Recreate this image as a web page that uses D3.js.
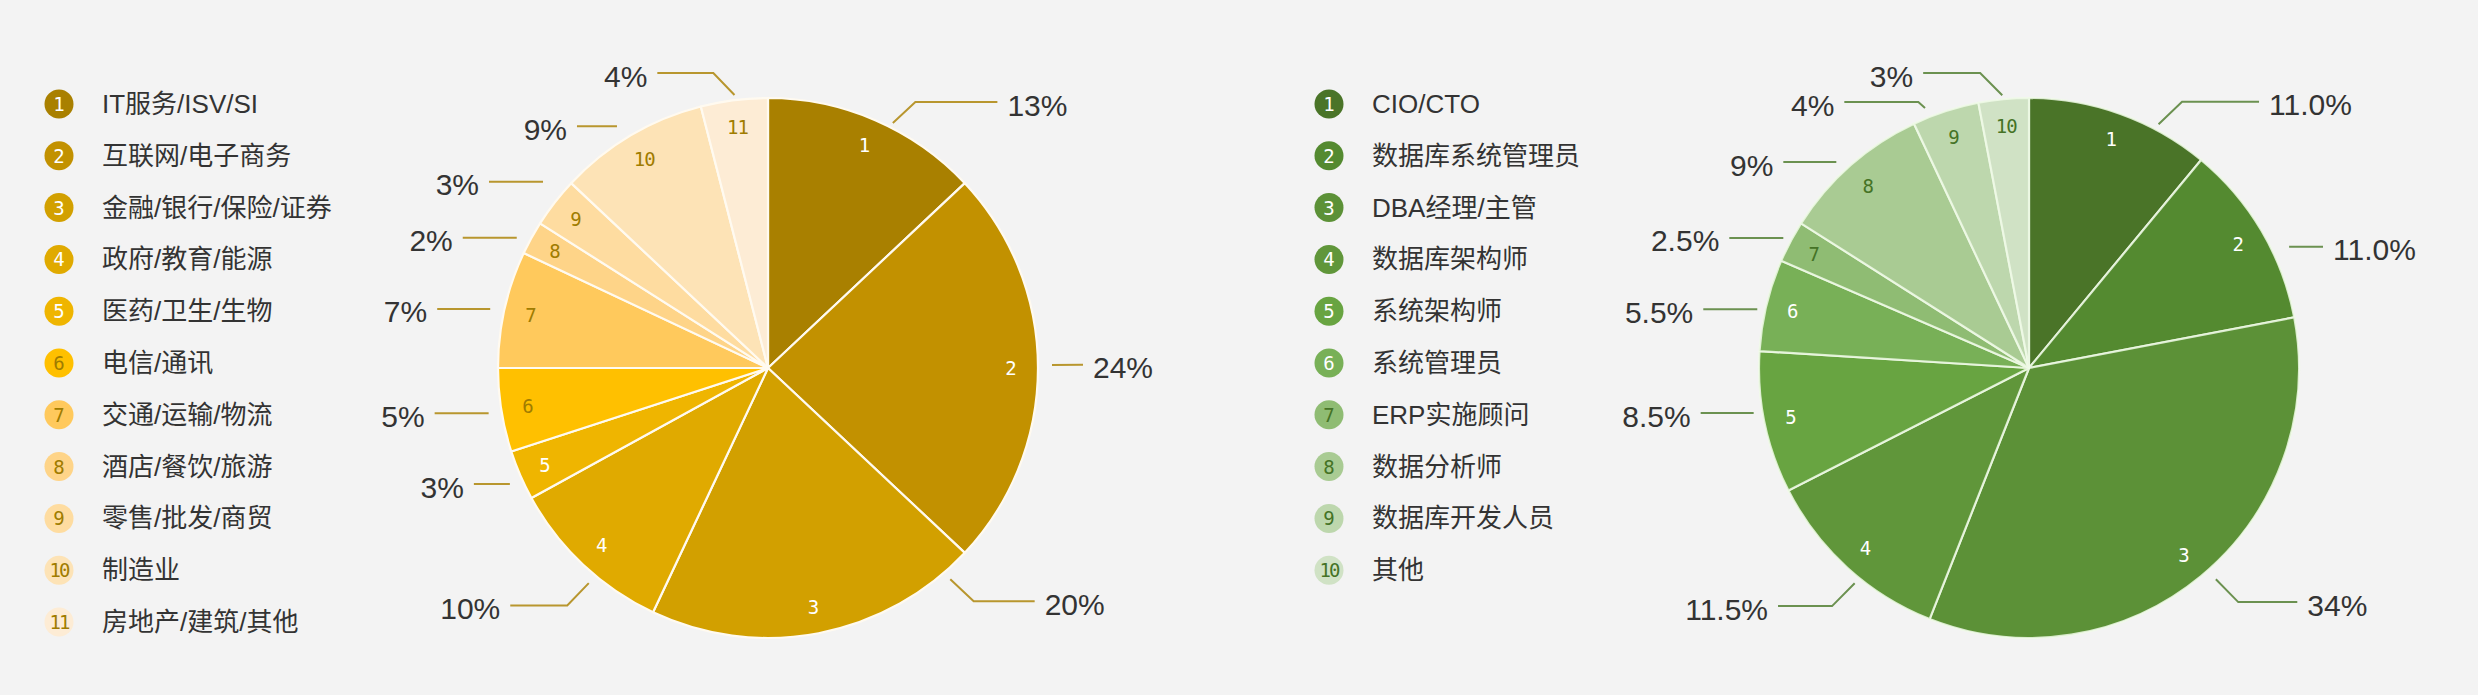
<!DOCTYPE html>
<html>
<head>
<meta charset="utf-8">
<script src="https://cdn.jsdelivr.net/npm/d3@7"></script>
<style>
  body { margin: 0; background: #f3f3f3; }
  svg { display: block; }
  text { font-family: 'Liberation Sans', Arial, 'Noto Sans CJK SC', sans-serif; }
  .num { font-family: 'DejaVu Sans Mono', 'Liberation Mono', monospace; }
</style>
</head>
<body>
<svg id="chart" width="2478" height="695"></svg>
<script>
// left chart: industries
const industryNames = ['IT服务/ISV/SI', '互联网/电子商务', '金融/银行/保险/证券', '政府/教育/能源', '医药/卫生/生物',
  '电信/通讯', '交通/运输/物流', '酒店/餐饮/旅游', '零售/批发/商贸', '制造业', '房地产/建筑/其他'];
const industryShares = [13, 24, 20, 10, 3, 5, 7, 2, 3, 9, 4];
const industryText = ['13%', '24%', '20%', '10%', '3%', '5%', '7%', '2%', '3%', '9%', '4%'];
const industryColors = ['#a98000', '#c29100', '#d2a000', '#e0aa00', '#efb500', '#ffc000',
  '#ffc95c', '#fed488', '#fedca0', '#fde3b6', '#fdecd5'];

// right chart: job roles
const roleNames = ['CIO/CTO', '数据库系统管理员', 'DBA经理/主管', '数据库架构师', '系统架构师',
  '系统管理员', 'ERP实施顾问', '数据分析师', '数据库开发人员', '其他'];
const roleShares = [11, 11, 34, 11.5, 8.5, 5.5, 2.5, 9, 4, 3];
const roleText = ['11.0%', '11.0%', '34%', '11.5%', '8.5%', '5.5%', '2.5%', '9%', '4%', '3%'];
const roleColors = ['#4a7428', '#548a30', '#5c9137', '#60963a', '#68a441', '#78b057',
  '#8fbc73', '#a9cb93', '#bdd7ad', '#d0e2c5'];

// leader lines: [start angle, start radius, elbow angle, elbow radius, horizontal run]
const industryLeaders = [
  [27, 275, 29, 304, 82],
  [89.4, 284, 89.4, 315, 0],
  [139.2, 279, 138.6, 311, 61],
  [219.8, 280, 220.2, 311, 57],
  [245.8, 283, 245.8, 283, 36],
  [260.8, 283, 260.8, 283, 54],
  [282, 284, 282, 284, 53],
  [297.4, 283, 297.4, 283, 54],
  [309.6, 292, 309.6, 292, 54],
  [328, 285, 328, 285, 40],
  [353, 275, 349.5, 300, 56]
];
const roleLeaders = [
  [28, 276, 29.9, 307, 77],
  [65, 287, 67.6, 318, 0],
  [138.5, 282, 138.2, 314, 59],
  [219, 277, 219.6, 309, 54],
  [260.7, 279, 260.7, 279, 53],
  [282.2, 278, 282.2, 278, 54],
  [297.9, 278, 297.9, 278, 54],
  [316.9, 282, 316.9, 282, 53],
  [338.2, 280, 337.4, 288, 74],
  [354.4, 274, 350.6, 299, 57]
];

class PieChart {

  constructor(_config, _data) {
    this.config = {
      parentElement: _config.parentElement,
      cx: _config.cx,
      cy: _config.cy,
      radius: _config.radius,
      legendX: _config.legendX,
      legendTop: _config.legendTop,
      legendStep: _config.legendStep,
      lineColor: _config.lineColor,
      sepColor: _config.sepColor,
      lightCount: _config.lightCount,
      darkText: _config.darkText
    };
    this.data = _data;
    this.initVis();
  }

  initVis() {
    let vis = this;
    const c = vis.config;
    const rad = Math.PI / 180;

    vis.svg = d3.select(c.parentElement);
    vis.g = vis.svg.append('g').attr('transform', `translate(${c.cx},${c.cy})`);

    vis.pie = d3.pie().sort(null).value(d => d.share);
    vis.arc = d3.arc().innerRadius(0).outerRadius(c.radius);
    vis.numArc = d3.arc().innerRadius(c.radius * 0.9).outerRadius(c.radius * 0.9);
    vis.arcs = vis.pie(vis.data);

    const numColor = (d, i) => i < c.lightCount ? '#ffffff' : c.darkText;

    // slices
    vis.g.selectAll('path.slice')
      .data(vis.arcs)
      .join('path')
        .attr('class', 'slice')
        .attr('d', vis.arc)
        .attr('fill', d => d.data.color)
        .attr('stroke', c.sepColor)
        .attr('stroke-width', 2.2)
        .attr('stroke-linejoin', 'round');

    // slice numbers near the rim
    vis.g.selectAll('text.slice-num')
      .data(vis.arcs)
      .join('text')
        .attr('class', 'slice-num num')
        .attr('transform', d => `translate(${vis.numArc.centroid(d)})`)
        .attr('text-anchor', 'middle')
        .attr('dominant-baseline', 'central')
        .attr('font-size', 19)
        .attr('letter-spacing', (d, i) => i >= 9 ? -1 : 0)
        .attr('fill', (d, i) => numColor(d, i))
        .text((d, i) => i + 1);

    // leaders + percent labels
    vis.leaders = vis.data.map(d => {
      const [a0, r0, a1, r1, run] = d.leader;
      const p0 = d3.pointRadial(a0 * rad, r0);
      const p1 = d3.pointRadial(a1 * rad, r1);
      const dir = p1[0] >= 0 ? 1 : -1;
      const p2 = [p1[0] + dir * run, p1[1]];
      return { pts: [p0, p1, p2], dir: dir, label: d.label };
    });

    vis.g.selectAll('path.leader')
      .data(vis.leaders)
      .join('path')
        .attr('class', 'leader')
        .attr('d', d => d3.line()(d.pts))
        .attr('fill', 'none')
        .attr('stroke', c.lineColor)
        .attr('stroke-width', 2);

    vis.g.selectAll('text.pct')
      .data(vis.leaders)
      .join('text')
        .attr('class', 'pct')
        .attr('x', d => d.pts[2][0] + d.dir * 10)
        .attr('y', d => d.pts[2][1] + 3)
        .attr('text-anchor', d => d.dir > 0 ? 'start' : 'end')
        .attr('dominant-baseline', 'central')
        .attr('font-size', 30)
        .attr('fill', '#333')
        .text(d => d.label);

    // legend
    const n = vis.data.length;
    vis.legendY = d3.scalePoint()
      .domain(d3.range(n))
      .range([c.legendTop, c.legendTop + c.legendStep * (n - 1)]);

    vis.legend = vis.svg.append('g')
      .selectAll('g.item')
      .data(vis.data)
      .join('g')
        .attr('class', 'item')
        .attr('transform', (d, i) => `translate(${c.legendX},${vis.legendY(i)})`);

    vis.legend.append('circle')
      .attr('r', 14.5)
      .attr('fill', d => d.color);

    vis.legend.append('text')
      .attr('class', 'num')
      .attr('text-anchor', 'middle')
      .attr('dominant-baseline', 'central')
      .attr('font-size', 19)
      .attr('letter-spacing', (d, i) => i >= 9 ? -2 : 0)
      .attr('fill', (d, i) => numColor(d, i))
      .text((d, i) => i + 1);

    vis.legend.append('text')
      .attr('x', 43)
      .attr('dominant-baseline', 'central')
      .attr('font-size', 26)
      .attr('fill', '#333')
      .text(d => d.name);
  }
}

const industryData = industryNames.map((name, i) => ({
  name: name, share: industryShares[i], label: industryText[i],
  color: industryColors[i], leader: industryLeaders[i]
}));
const roleData = roleNames.map((name, i) => ({
  name: name, share: roleShares[i], label: roleText[i],
  color: roleColors[i], leader: roleLeaders[i]
}));

new PieChart({
  parentElement: '#chart',
  cx: 768, cy: 368, radius: 270,
  legendX: 59, legendTop: 104, legendStep: 51.8,
  lineColor: '#b8962e',
  sepColor: '#fffaf0',
  lightCount: 5,
  darkText: '#a07c00'
}, industryData);

new PieChart({
  parentElement: '#chart',
  cx: 2029, cy: 368, radius: 270,
  legendX: 1329, legendTop: 104, legendStep: 51.8,
  lineColor: '#6b9150',
  sepColor: 'rgba(240,250,232,0.85)',
  lightCount: 6,
  darkText: '#457326'
}, roleData);
</script>
</body>
</html>
